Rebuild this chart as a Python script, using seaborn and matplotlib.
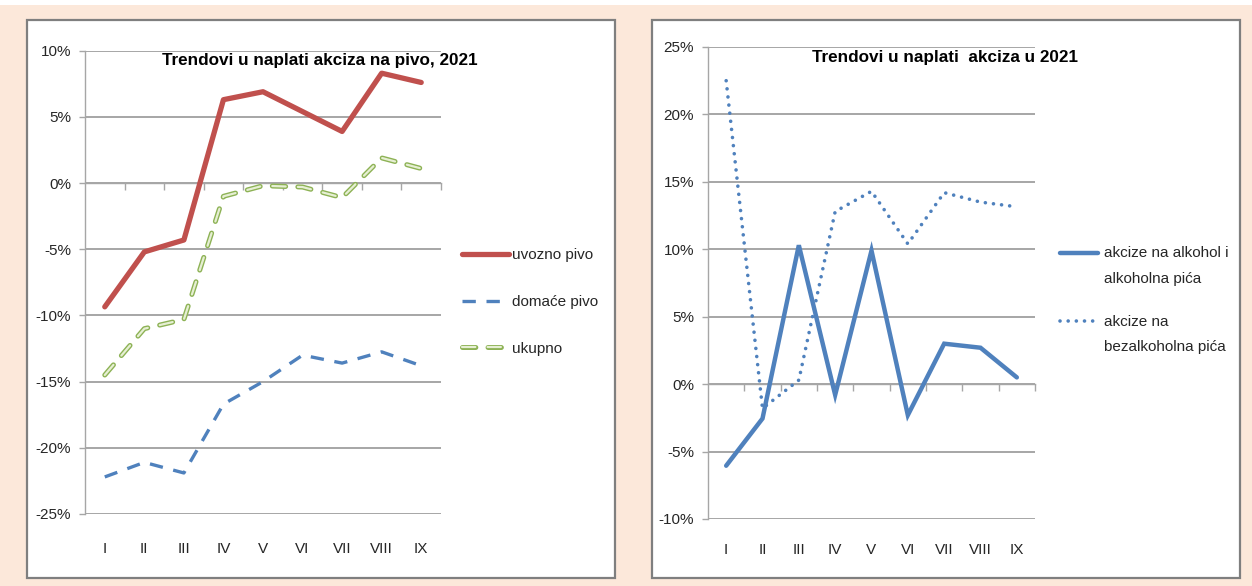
import numpy as np
import pandas as pd
import matplotlib
matplotlib.use("Agg")
import matplotlib.pyplot as plt
import matplotlib.patheffects as pe
from matplotlib.patches import Rectangle
from matplotlib.legend_handler import HandlerLine2D
import seaborn as sns

# ---------------- data ----------------
months = ["I", "II", "III", "IV", "V", "VI", "VII", "VIII", "IX"]

uvozno_pivo = [-9.35, -5.2, -4.3, 6.3, 6.9, 5.4, 3.9, 8.3, 7.6]
domace_pivo = [-22.2, -21.1, -21.9, -16.7, -15.0, -13.0, -13.6, -12.75, -13.8]
ukupno = [-14.5, -11.0, -10.3, -1.0, -0.2, -0.3, -1.1, 1.9, 1.1]

alkohol = [-6.05, -2.55, 10.3, -0.8, 9.9, -2.3, 3.0, 2.7, 0.5]
bezalkoholna = [22.5, -1.8, 0.3, 12.8, 14.3, 10.4, 14.2, 13.5, 13.15]

left_title = "Trendovi u naplati akciza na pivo, 2021"
right_title = "Trendovi u naplati  akciza u 2021"
left_labels = ["uvozno pivo", "domaće pivo", "ukupno"]
right_labels = ["akcize na alkohol i\nalkoholna pića", "akcize na\nbezalkoholna pića"]
left_yticks = [-25, -20, -15, -10, -5, 0, 5, 10]
right_yticks = [-10, -5, 0, 5, 10, 15, 20, 25]

# ---------------- style ----------------
sns.set_theme(style="white")
plt.rcParams["font.family"] = ["Liberation Sans", "DejaVu Sans"]
plt.rcParams["axes.unicode_minus"] = False

W, H = 1252, 586
FS = 11
fig = plt.figure(figsize=(W / 100, H / 100), dpi=100, facecolor="#FCE8DA")

# white strip at the very top + panels
fig.patches.append(Rectangle((0, 1 - 5 / H), 1, 5 / H, transform=fig.transFigure,
                             facecolor="white", edgecolor="none", zorder=-2))
for px in (27, 652):
    fig.patches.append(Rectangle((px / W, 8 / H), 588 / W, 558 / H, transform=fig.transFigure,
                                 facecolor="white", edgecolor="#7F7F7F", lw=1.6, zorder=-1))

GRID = "#A6A6A6"
TXT = "#262626"
BLUE = "#4F81BD"
RED = "#C0504D"


class ShiftHandler(HandlerLine2D):
    def __init__(self, dy=0, **kw):
        super().__init__(**kw)
        self.dy = dy

    def create_artists(self, legend, orig_handle, xdescent, ydescent, width, height, fontsize, trans):
        arts = super().create_artists(legend, orig_handle, xdescent, ydescent, width, height, fontsize, trans)
        for a in arts:
            a.set_ydata(np.asarray(a.get_ydata(), dtype=float) + self.dy)
        return arts


def style_axes(ax, yticks, ylim, xpad):
    ax.set_facecolor("none")
    ax.set_xlim(-0.5, len(months) - 0.5)
    ax.set_ylim(*ylim)
    ax.set_yticks(yticks, [f"{v}%" for v in yticks])
    ax.set_xticks(range(len(months)), months)
    ax.yaxis.grid(True, color=GRID, lw=1.4)
    ax.set_axisbelow(True)
    for s in ("top", "right", "bottom"):
        ax.spines[s].set_visible(False)
    ax.spines["left"].set_color(GRID)
    ax.spines["left"].set_linewidth(1.0)
    ax.tick_params(axis="y", left=True, length=4, width=1, color=GRID, pad=6,
                   labelsize=FS, labelcolor=TXT)
    ax.tick_params(axis="x", bottom=False, length=0, pad=xpad, labelsize=FS, labelcolor=TXT)
    ax.set_xlabel("")
    ax.set_ylabel("")
    # category axis crossing at 0 with boundary ticks
    y0, y1 = ax.get_ylim()
    sec = ax.secondary_xaxis((0 - y0) / (y1 - y0))
    sec.set_alignment("bottom")
    sec.set_xticks(np.arange(0.5, len(months), 1.0))
    sec.tick_params(axis="x", length=5, width=1, color=GRID, direction="out", labelbottom=False,
                    labeltop=False)
    for s in sec.spines.values():
        s.set_color(GRID)
        s.set_linewidth(1.0)


x = np.arange(len(months))

# ---------------- left chart ----------------
axL = fig.add_axes([85 / W, 1 - 514 / H, 356 / W, 463.3 / H])
df_l = pd.DataFrame({"x": x, "uvozno": uvozno_pivo, "domace": domace_pivo, "ukupno": ukupno})

sns.lineplot(data=df_l, x="x", y="uvozno", ax=axL, color=RED, lw=3.8, label=left_labels[0])
l_red = axL.lines[-1]
l_red.set_solid_joinstyle("round")

sns.lineplot(data=df_l, x="x", y="domace", ax=axL, color=BLUE, lw=2.4, label=left_labels[1])
l_blue = axL.lines[-1]
l_blue.set_dashes((4.0, 3.2))
l_blue.set_dash_capstyle("butt")

sns.lineplot(data=df_l, x="x", y="ukupno", ax=axL, color="#E6EFD3", lw=1.6, label=left_labels[2])
l_green = axL.lines[-1]
l_green.set_dashes((6.0, 5.5))
l_green.set_dash_capstyle("round")
l_green.set_path_effects([pe.Stroke(linewidth=3.6, foreground="#8DB255"), pe.Normal()])

style_axes(axL, left_yticks, (-25, 10), 20)
if axL.legend_:
    axL.legend_.remove()
fig.legend(handles=[l_red, l_blue, l_green], labels=left_labels,
           loc="upper left", bbox_to_anchor=(462 / W, 1 - 248 / H), bbox_transform=fig.transFigure,
           frameon=False, fontsize=FS, handlelength=3.05, handletextpad=0.2,
           labelspacing=2.15, borderpad=0, borderaxespad=0, labelcolor=TXT)
axL.text(0.66, 0.978, left_title, transform=axL.transAxes, ha="center", va="center",
         fontsize=12.3, fontweight="bold", color="black")

# ---------------- right chart ----------------
axR = fig.add_axes([708 / W, 1 - 519 / H, 327 / W, 472 / H])
df_r = pd.DataFrame({"x": x, "alkohol": alkohol, "bez": bezalkoholna})

sns.lineplot(data=df_r, x="x", y="alkohol", ax=axR, color=BLUE, lw=3.2, label=right_labels[0])
r_solid = axR.lines[-1]
r_solid.set_solid_joinstyle("miter")

sns.lineplot(data=df_r, x="x", y="bez", ax=axR, color=BLUE, lw=2.6, label=right_labels[1])
r_dot = axR.lines[-1]
r_dot.set_dashes((0.01, 2.25))
r_dot.set_dash_capstyle("round")

style_axes(axR, right_yticks, (-10, 25), 17)
if axR.legend_:
    axR.legend_.remove()
legR = fig.legend(handles=[r_solid, r_dot], labels=right_labels,
                  loc="upper left", bbox_to_anchor=(1060 / W, 1 - 246 / H), bbox_transform=fig.transFigure,
                  frameon=False, fontsize=FS, handlelength=2.5, handletextpad=0.35,
                  labelspacing=1.9, borderpad=0, borderaxespad=0, labelcolor=TXT,
                  handler_map={r_solid: ShiftHandler(dy=9.6), r_dot: ShiftHandler(dy=9.6)})
for t in legR.get_texts():
    t.set_linespacing(2.05)
axR.text(0.725, 0.977, right_title, transform=axR.transAxes, ha="center", va="center",
         fontsize=12.3, fontweight="bold", color="black")

fig.savefig("out.png", dpi=100, facecolor=fig.get_facecolor())
